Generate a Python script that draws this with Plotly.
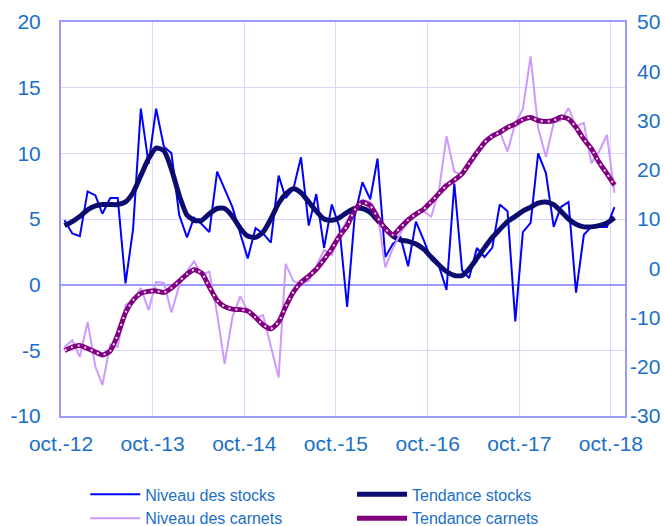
import pandas as pd
import plotly.graph_objects as go

# Monthly data, oct. 2012 -> oct. 2018
months = pd.date_range("2012-10-01", "2018-10-01", freq="MS") + pd.Timedelta(days=14)

niveau_stocks = [4.9, 3.9, 3.7, 7.1, 6.8, 5.4, 6.6, 6.6, 0.1, 4.2,
                 13.4, 9.2, 13.4, 10.5, 10.0, 5.3, 3.6, 5.1, 4.6, 4.0,
                 8.6, 7.2, 5.9, 3.9, 2.0, 4.3, 3.9, 3.2, 8.3, 6.6,
                 7.3, 9.7, 4.5, 6.9, 2.8, 6.1, 4.4, -1.7, 5.2, 7.8,
                 6.5, 9.6, 2.1, 3.1, 3.6, 1.4, 4.8, 3.4, 1.9, 1.4,
                 -0.4, 7.7, 1.1, 0.5, 2.8, 2.1, 2.8, 6.1, 5.6, -2.8,
                 4.0, 4.7, 10.0, 8.5, 4.4, 5.9, 6.3, -0.6, 3.8, 4.4,
                 4.4, 4.4, 5.9]

tendance_stocks = [4.5, 4.8, 5.2, 5.7, 6.0, 6.1, 6.1, 6.1, 6.3, 7.0,
                   8.3, 9.6, 10.4, 10.2, 8.8, 6.8, 5.3, 4.9, 4.9, 5.4,
                   5.8, 5.8, 5.2, 4.3, 3.7, 3.6, 4.0, 5.0, 6.2, 6.9,
                   7.3, 7.0, 6.3, 5.6, 5.0, 4.9, 5.1, 5.5, 5.8, 5.8,
                   5.5, 4.9, 4.3, 3.7, 3.4, 3.3, 3.1, 2.7, 2.1, 1.5,
                   1.0, 0.7, 0.7, 1.2, 2.0, 2.8, 3.6, 4.2, 4.8, 5.2,
                   5.6, 5.9, 6.2, 6.3, 6.1, 5.6, 5.0, 4.6, 4.4, 4.4,
                   4.5, 4.7, 5.1]

niveau_carnets = [-16.0, -14.6, -18.0, -10.9, -20.0, -23.7, -15.5, -16.0, -7.5, -6.5,
                  -4.0, -8.5, -2.8, -3.0, -9.0, -3.5, -0.6, 1.4, -1.3, -0.7,
                  -9.2, -19.4, -9.9, -5.7, -8.7, -10.2, -9.5, -16.0, -22.2, 0.9,
                  -2.6, -3.2, -2.6, 0.4, 3.7, 2.7, 6.7, 9.8, 11.8, 13.9,
                  13.5, 11.2, 0.2, 4.0, 7.2, 9.5, 11.2, 11.5, 10.5, 15.9,
                  26.8, 19.6, 18.9, 20.6, 23.0, 26.1, 27.3, 27.8, 23.7, 29.5,
                  32.3, 43.0, 28.5, 22.6, 29.6, 30.0, 32.5, 28.8, 29.5, 21.3,
                  23.7, 27.1, 15.3]

tendance_carnets = [-16.7, -16.0, -15.7, -16.3, -17.0, -17.6, -16.8, -13.5, -9.0, -6.5,
                    -5.1, -4.7, -4.6, -4.9, -4.0, -2.6, -1.2, -0.3, -1.0, -3.8,
                    -6.5, -7.8, -8.3, -8.4, -8.7, -10.0, -11.5, -12.3, -10.9, -7.8,
                    -4.8, -2.9, -1.6, -0.2, 1.8, 4.0, 6.5, 8.6, 11.8, 13.4,
                    12.7, 10.3, 8.0, 6.8, 8.3, 9.8, 11.0, 12.0, 13.5, 15.2,
                    16.8, 17.9, 19.2, 21.3, 23.5, 25.5, 26.8, 27.6, 28.6, 29.3,
                    30.2, 30.6, 30.0, 29.8, 30.0, 30.7, 30.3, 28.6, 26.2, 24.3,
                    21.5, 19.2, 16.9]

tick_dates = ["2012-10-01", "2013-10-01", "2014-10-01", "2015-10-01",
              "2016-10-01", "2017-10-01", "2018-10-01"]
tick_labels = ["oct.-12", "oct.-13", "oct.-14", "oct.-15", "oct.-16", "oct.-17", "oct.-18"]
left_ticks = [-10, -5, 0, 5, 10, 15, 20]
right_ticks = [-30, -20, -10, 0, 10, 20, 30, 40, 50]

BLUE = "#0000FF"
NAVY = "#0B0B72"
LILAC = "#CC99FF"
PURPLE = "#800080"
TXT = "#1A6FC9"
GRID = "#D6D6FF"
AXIS = "#9999FF"
FONT = "Liberation Sans, Arial, sans-serif"
TICK_SIZE = 21


def right_aligned(v):
    # right axis labels are right-aligned in the reference: pad with invisible glyphs
    s = str(v)
    if v < 0:
        return s
    pad = "-3" if len(s) == 1 else "-"
    return '<span style="color:rgba(0,0,0,0)">' + pad + "</span>" + s


fig = go.Figure()
fig.add_trace(go.Scatter(x=months, y=niveau_stocks, name="Niveau des stocks",
                         mode="lines", line=dict(color=BLUE, width=2), legend="legend"))
fig.add_trace(go.Scatter(x=months, y=tendance_stocks, name="Tendance stocks",
                         mode="lines", line=dict(color=NAVY, width=5, shape="spline", smoothing=0.6),
                         legend="legend2"))
fig.add_trace(go.Scatter(x=months, y=niveau_carnets, name="Niveau des carnets",
                         mode="lines", line=dict(color=LILAC, width=2), yaxis="y2", legend="legend"))
fig.add_trace(go.Scatter(x=months, y=tendance_carnets, name="Tendance carnets",
                         mode="lines", line=dict(color=PURPLE, width=5, shape="spline", smoothing=0.6),
                         yaxis="y2", legend="legend2"))
fig.add_trace(go.Scatter(x=months, y=tendance_carnets, name="Tendance carnets",
                         mode="lines", line=dict(color="#F2DDF2", width=2, dash="2px,5px",
                                                 shape="spline", smoothing=0.6),
                         yaxis="y2", showlegend=False, hoverinfo="skip", legend="legend2"))

legend_common = dict(orientation="v", yanchor="top", xanchor="left",
                     font=dict(size=16, color=TXT), bgcolor="rgba(0,0,0,0)",
                     traceorder="normal", itemwidth=50, tracegroupgap=0)

fig.update_layout(
    width=664, height=526,
    margin=dict(l=61, r=39, t=22, b=110, autoexpand=False),
    paper_bgcolor="white", plot_bgcolor="white",
    font=dict(family=FONT, color=TXT, size=TICK_SIZE),
    xaxis=dict(type="date", range=["2012-10-01", "2018-11-26"],
               tickvals=tick_dates, ticktext=tick_labels, automargin=False,
               showgrid=True, gridcolor=GRID, gridwidth=1,
               showline=True, linecolor=AXIS, linewidth=2, mirror=True,
               ticks="", ticklabelstandoff=8,
               tickfont=dict(size=TICK_SIZE, color=TXT)),
    yaxis=dict(range=[-10, 20], tickvals=left_ticks, ticktext=[str(v) for v in left_ticks],
               automargin=False,
               showgrid=True, gridcolor=GRID, gridwidth=1,
               zeroline=True, zerolinecolor=AXIS, zerolinewidth=1.5,
               showline=True, linecolor=AXIS, linewidth=2, mirror=True,
               ticks="", ticklabelstandoff=14,
               tickfont=dict(size=TICK_SIZE, color=TXT)),
    yaxis2=dict(range=[-30, 50], tickvals=right_ticks,
                ticktext=[right_aligned(v) for v in right_ticks],
                automargin=False,
                overlaying="y", side="right", showgrid=False, zeroline=False,
                showline=False, ticks="", ticklabelstandoff=4,
                tickfont=dict(size=TICK_SIZE, color=TXT)),
    legend=dict(x=0.043, y=-0.156, **legend_common),
    legend2=dict(x=0.516, y=-0.156, **legend_common),
    showlegend=True,
)

# remove the default page margin so the 664x526 figure fills the window exactly
fig.write_html("out.html",
               config={"displayModeBar": False},
               post_script="document.body.style.margin='0';"
                           "document.body.style.overflow='hidden';")
